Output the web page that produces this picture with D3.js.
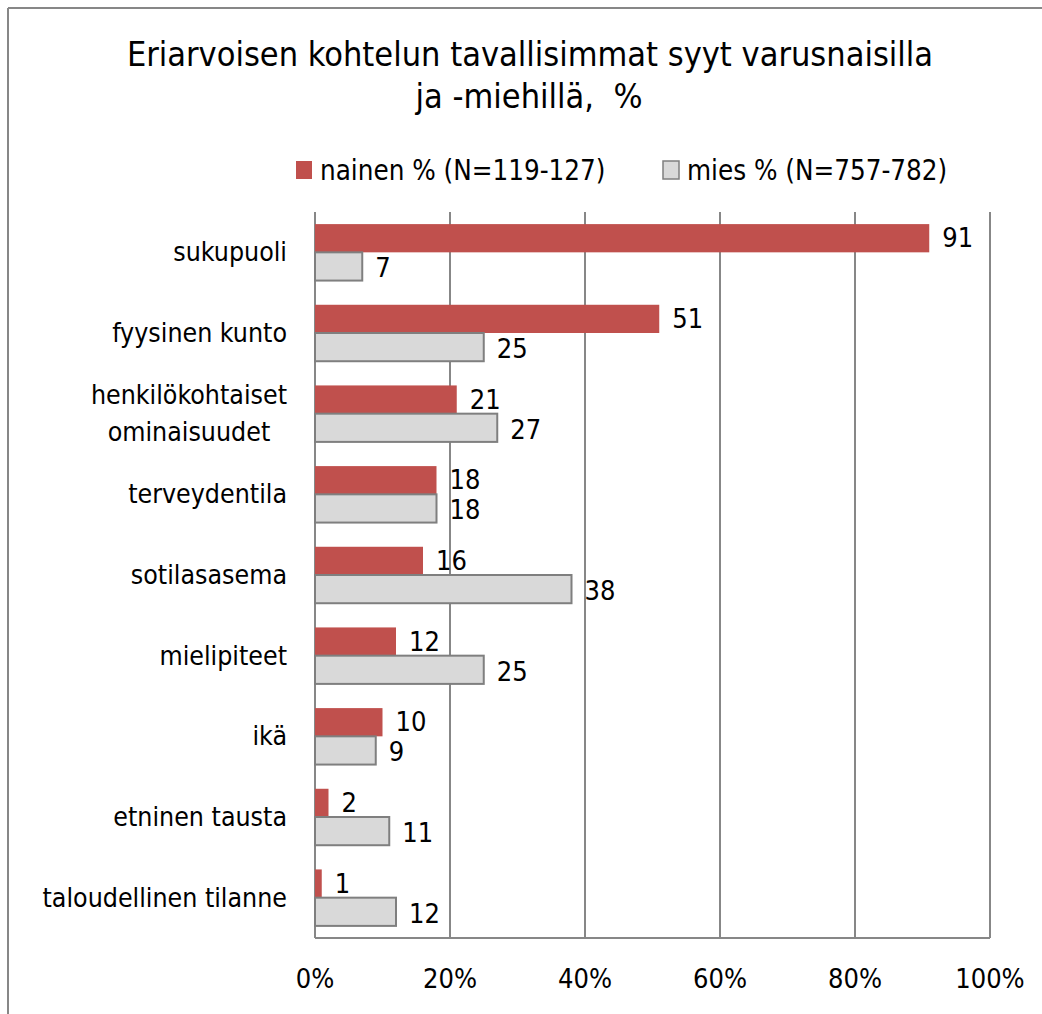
<!DOCTYPE html>
<html>
<head>
<meta charset="utf-8">
<script src="https://cdn.jsdelivr.net/npm/d3@7"></script>
<style>
  body { margin: 0; background: #fff; }
  svg text { font-family: "Liberation Sans Narrow", "DejaVu Sans Condensed", sans-serif; fill: #000; white-space: pre; }
</style>
</head>
<body>
<svg width="1042" height="1014"></svg>
<script>
// data
var categories = ["sukupuoli", "fyysinen kunto", "henkilökohtaiset\nominaisuudet", "terveydentila",
	"sotilasasema", "mielipiteet", "ikä", "etninen tausta", "taloudellinen tilanne"];
var nainen = [91, 51, 21, 18, 16, 12, 10, 2, 1];
var mies = [7, 25, 27, 18, 38, 25, 9, 11, 12];
var seriesNames = ["nainen % (N=119-127)", "mies % (N=757-782)"];
var ticks = [0, 20, 40, 60, 80, 100];

var svg = d3.select("svg"),
	margin = {top: 212, right: 52, bottom: 76, left: 315},
	width = 1042 - margin.left - margin.right,
	height = 1014 - margin.top - margin.bottom,
	colors = ["#c0504d", "#d9d9d9"],
	grid = "#878787";

// outer frame (only top and left visible)
svg.append("line").attr("x1", 8).attr("x2", 1042).attr("y1", 8).attr("y2", 8)
	.attr("stroke", grid).attr("stroke-width", 2);
svg.append("line").attr("x1", 8).attr("x2", 8).attr("y1", 8).attr("y2", 1014)
	.attr("stroke", grid).attr("stroke-width", 2);

// title
var title = svg.append("text")
	.attr("text-anchor", "middle")
	.style("font-size", "34px");
title.append("tspan").attr("x", 530).attr("y", 66).text("Eriarvoisen kohtelun tavallisimmat syyt varusnaisilla");
title.append("tspan").attr("x", 529).attr("y", 108).text("ja -miehillä,  %");

var x = d3.scaleLinear().domain([0, 100]).range([0, width]),
	y = d3.scaleBand().domain(d3.range(categories.length)).range([0, height])
		.paddingInner(0.3).paddingOuter(0.15),
	ys = d3.scaleBand().domain([0, 1]).range([0, y.bandwidth()]);

var g = svg.append("g")
	.attr("transform", "translate(" + margin.left + "," + margin.top + ")");

// gridlines
g.selectAll(".grid")
	.data(ticks)
	.enter().append("line")
	.attr("class", "grid")
	.attr("x1", function(d){ return x(d) }).attr("x2", function(d){ return x(d) })
	.attr("y1", 0).attr("y2", height)
	.attr("stroke", grid).attr("stroke-width", 2);

g.append("line").attr("x1", 0).attr("x2", width).attr("y1", height).attr("y2", height)
	.attr("stroke", grid).attr("stroke-width", 2);

// x tick labels
g.selectAll(".tick-label")
	.data(ticks)
	.enter().append("text")
	.attr("class", "tick-label")
	.attr("x", function(d){ return x(d) })
	.attr("y", height + 50)
	.attr("text-anchor", "middle")
	.style("font-size", "27px")
	.text(function(d){ return d + "%" });

// category labels
categories.forEach(function(c, i) {
	var lines = c.split("\n");
	var t = g.append("text")
		.style("font-size", "26.5px")
		.attr("text-anchor", "middle");
	lines.forEach(function(l, j) {
		t.append("tspan").attr("x", 0)
			.attr("y", y(i) + y.bandwidth() / 2 + 9 + (j - (lines.length - 1) / 2) * 37)
			.text(l);
	});
	var w = t.node().getBBox().width;
	t.selectAll("tspan").attr("x", -28 - w / 2);
});

// bars
var series = [nainen, mies];
series.forEach(function(vals, s) {
	g.selectAll(".bar" + s)
		.data(vals)
		.enter().append("rect")
		.attr("class", "bar" + s)
		.attr("x", 0)
		.attr("y", function(d, i){ return y(i) + ys(s) })
		.attr("width", function(d){ return x(d) })
		.attr("height", ys.bandwidth())
		.attr("fill", colors[s])
		.attr("stroke", s == 1 ? "#7f7f7f" : "none")
		.attr("stroke-width", 2);

	g.selectAll(".val" + s)
		.data(vals)
		.enter().append("text")
		.attr("class", "val" + s)
		.attr("x", function(d){ return x(d) + 13 })
		.attr("y", function(d, i){ return y(i) + ys(s) + ys.bandwidth() / 2 + (s == 0 ? 9 : 11) })
		.style("font-size", "27px")
		.text(function(d){ return d });
});

// legend
var legend = svg.append("g");
var lx = [296, 663];
seriesNames.forEach(function(n, i) {
	legend.append("rect")
		.attr("x", lx[i]).attr("y", 161).attr("width", 16).attr("height", 18)
		.attr("fill", colors[i])
		.attr("stroke", i == 1 ? "#7f7f7f" : "none").attr("stroke-width", 1.5);
	legend.append("text")
		.attr("x", lx[i] + 24).attr("y", 180)
		.style("font-size", "27.5px")
		.text(n);
});
</script>
</body>
</html>
